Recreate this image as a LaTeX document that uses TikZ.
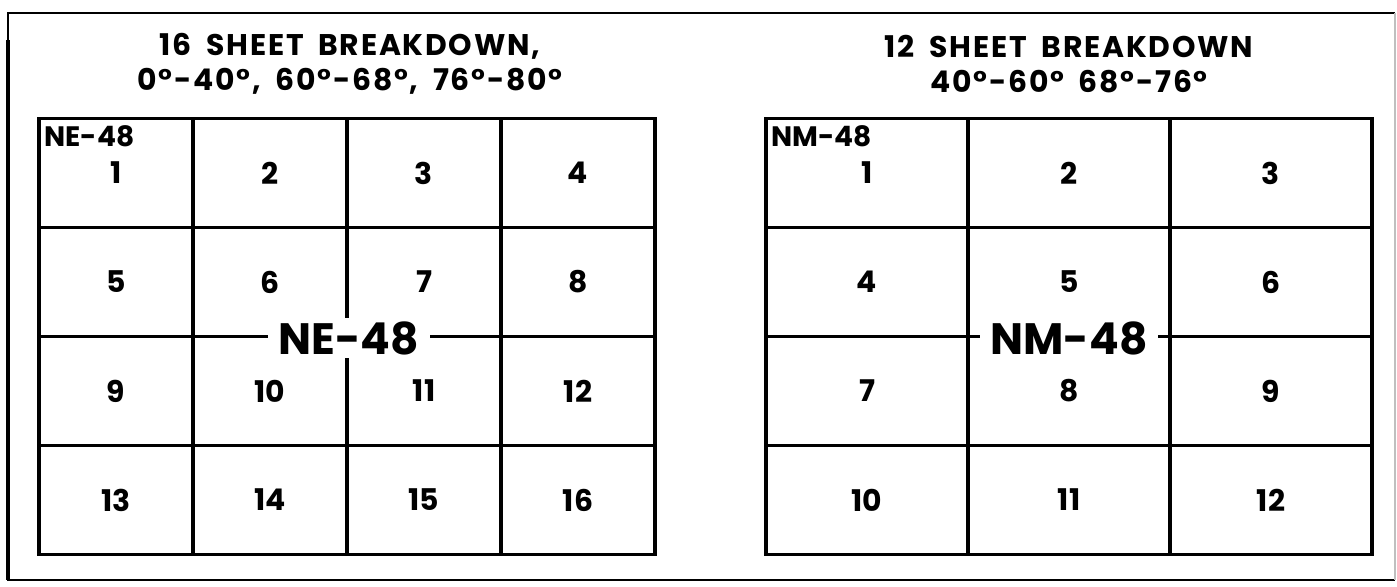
\documentclass[tikz,border=0pt]{standalone}
\usepackage{fontspec}
\setmainfont{Poppins}
\newfontfamily\ttlfont{Poppins}[LetterSpace=6, WordSpace=1.8]
\usetikzlibrary{positioning}

\begin{document}
\begin{tikzpicture}[
  x=0.02cm, y=-0.02cm,
  frame/.style={line width=1.4pt},
  cellL/.style={draw, line width=2pt, minimum width=3.08cm, minimum height=2.18cm,
                inner sep=0pt, font=\fontsize{17}{18}\selectfont\bfseries},
  cellR/.style={cellL, minimum width=4.04cm},
  ttl/.style={font=\ttlfont\fontsize{17}{20}\selectfont\bfseries, align=center},
  tag/.style={font=\fontsize{16}{17}\selectfont\bfseries, inner sep=0pt, anchor=north west},
  sheet/.style={font=\fontsize{25}{28}\selectfont\bfseries, fill=white,
                inner xsep=6pt, inner ysep=2pt},
]
\useasboundingbox (0,0) rectangle (1397,586);

%% ---- Outer frame ----
\draw[frame] (1395,13) -- (8,13) -- (8,580) -- (1395,580);
\draw[frame, black!25, line width=0.6pt] (1395,13) -- (1395,580);
\draw[line width=2.8pt] (8,40) -- (8,580);

%% ---- Titles ----
\node[ttl] (tL) at (350,64) {16 SHEET BREAKDOWN,\\0°-40°, 60°-68°, 76°-80°};
\node[ttl] (tR) at (1069,64) {12 SHEET BREAKDOWN\\40°-60° 68°-76°};

%% ---- 16 sheet grid ----
\foreach \r in {0,...,3}
  \foreach \c in {0,...,3} {
    \pgfmathtruncatemacro\n{4*\r+\c+1}
    \node[cellL] (a\n) at ({116+154*\c},{173+109*\r}) {\n};
  }
\node[tag] (hL) at (a1.north west) [xshift=4pt, yshift=-5pt] {NE-48};
\node[sheet] (sL) at (a6.south east) {NE-48};

%% ---- 12 sheet grid ----
\foreach \r in {0,...,3}
  \foreach \c in {0,...,2} {
    \pgfmathtruncatemacro\n{3*\r+\c+1}
    \node[cellR] (b\n) at ({867+202*\c},{173+109*\r}) {\n};
  }
\node[tag] (hR) at (b1.north west) [xshift=4pt, yshift=-5pt] {NM-48};
\node[sheet] (sR) at (b5.south) {NM-48};
\end{tikzpicture}
\end{document}
